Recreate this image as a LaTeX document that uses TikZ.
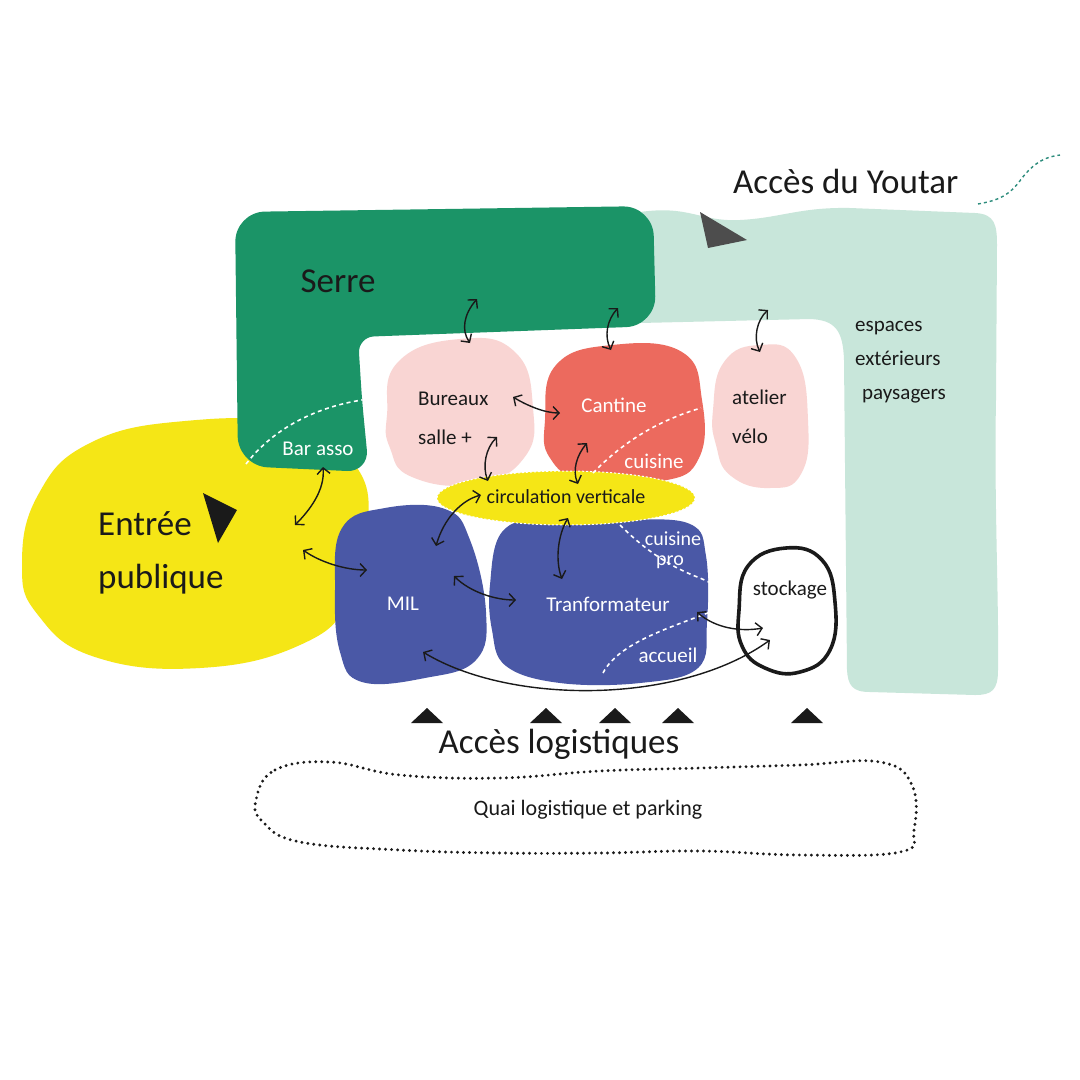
\documentclass[tikz,border=0pt]{standalone}
\usepackage{fontspec}
\setmainfont{Carlito}
\usetikzlibrary{arrows.meta}
\definecolor{serre}{HTML}{1B9467}
\definecolor{mint}{HTML}{C8E6DA}
\definecolor{ylw}{HTML}{F5E616}
\definecolor{pinkb}{HTML}{F9D5D3}
\definecolor{cant}{HTML}{EC6A5E}
\definecolor{bleu}{HTML}{4A58A6}
\definecolor{tri}{HTML}{4D4D4D}
\definecolor{teal}{HTML}{2C8C7C}
\definecolor{ink}{HTML}{1A1A1A}
\tikzset{
  arr/.style={ink, line width=1.4pt, {Straight Barb[length=6pt,width=13pt]}-{Straight Barb[length=6pt,width=13pt]}},
  wdash/.style={white, line width=1.6pt, dash pattern=on 4pt off 3.5pt},
  big/.style={ink, inner sep=0pt, font=\fontsize{35}{53}\selectfont},
  lbl/.style={inner sep=0pt, font=\fontsize{21}{39}\selectfont},
  wlbl/.style={lbl, white},
  blbl/.style={lbl, ink},
}
\begin{document}
\begin{tikzpicture}[x=1pt,y=-1pt]
\useasboundingbox (0,0) rectangle (1080,1080);
\fill[white] (0,0) rectangle (1080,1080);

% mint exterior spaces
\fill[mint] (640,212) .. controls (690,205) and (700,222) .. (740,220)
  .. controls (780,218) and (800,207) .. (850,208)
  .. controls (900,210) and (950,212) .. (975,213)
  .. controls (995,214) and (997,225) .. (997,245)
  -- (996,400) .. controls (994,500) and (999,600) .. (998,670)
  .. controls (998,690) and (992,695) .. (975,695)
  -- (870,692) .. controls (852,692) and (848,685) .. (847,670)
  -- (844,360) .. controls (843,330) and (835,320) .. (810,319)
  -- (640,323) -- cycle;

% yellow public entrance
\fill[ylw] plot[smooth cycle, tension=0.75] coordinates {(22,565) (38,495) (90,443) (185,421) (290,425) (355,465) (368,530) (350,600) (300,645) (200,668) (95,657) (38,615)};

% Serre
\fill[serre] (445,209) [rounded corners=30pt] -- (653,206) -- (656,326)
  [rounded corners=16pt] -- (358,337) -- (362,400) [rounded corners=22pt] -- (369,472)
  [rounded corners=30pt] -- (238,466) -- (235,212) -- (445,209);

% pink Bureaux
\fill[pinkb] plot[smooth cycle, tension=0.8] coordinates {(387,415) (398,362) (460,339) (515,352) (533,408) (524,458) (475,484) (412,477) (390,448)};
% Cantine
\fill[cant] plot[smooth cycle, tension=0.75] coordinates {(545,420) (556,365) (612,345) (682,352) (702,400) (699,458) (662,481) (585,480) (550,458)};
% atelier velo
\fill[pinkb] plot[smooth cycle, tension=0.8] coordinates {(713,410) (724,362) (760,345) (796,358) (808,420) (801,474) (770,488) (731,476) (716,445)};

% MIL
\fill[bleu] plot[smooth cycle, tension=0.7] coordinates {(335,590) (342,528) (385,508) (445,509) (470,540) (486,612) (476,660) (425,678) (362,682) (340,652)};
% Transformateur
\fill[bleu] plot[smooth cycle, tension=0.65] coordinates {(490,585) (502,532) (545,518) (625,519) (690,524) (706,556) (707,622) (698,668) (640,683) (560,683) (506,666) (492,630)};

% circulation verticale
\filldraw[fill=ylw, draw=white, line width=1pt, dash pattern=on 2pt off 2pt] (566,498) ellipse [x radius=129, y radius=27];

% stockage
\filldraw[fill=white, draw=ink, line width=3.6pt] plot[smooth cycle, tension=0.75] coordinates {(739,610) (748,566) (786,548) (822,560) (835,602) (830,650) (800,672) (765,668) (742,646)};

% quai
\draw[ink, line width=3.2pt, dash pattern=on 0pt off 6pt, line cap=round] plot[smooth cycle, tension=0.7] coordinates {(256,800) (275,770) (330,762) (400,775) (500,778) (600,771) (700,768) (800,765) (880,762) (912,785) (914,830) (900,852) (800,855) (700,851) (600,853) (500,853) (400,850) (300,842) (263,822)};

% white dashed separations
\draw[wdash] (246,464) .. controls (280,420) and (330,405) .. (362,400);
\draw[wdash] (593,473) .. controls (625,440) and (660,420) .. (701,408);
\draw[wdash] (620,525) .. controls (640,545) and (665,565) .. (700,578) -- (722,588);
\draw[wdash] (603,673) .. controls (620,640) and (680,625) .. (720,608);

% teal dotted path
\draw[teal, line width=1.4pt, dash pattern=on 3pt off 3pt] (978,204) .. controls (1000,200) and (1010,195) .. (1022,178) .. controls (1035,162) and (1045,157) .. (1060,155);

% triangles
\fill[tri] (700,212) -- (747,240) -- (708,248) -- cycle;
\fill[ink] (203,493) -- (237,510) -- (218,543) -- cycle;
\foreach \cx in {427,546,615,678,807} {\fill[ink] (\cx-16,723) -- (\cx,708) -- (\cx+16,723) -- cycle;}

% labels
\node[big, anchor=west] (tyoutar) at (733,181) {Accès du Youtar};
\node[big] (tserre) at (338,281) {Serre};
\node[big, anchor=west, align=left] (tentree) at (98,553) {Entrée\\publique};
\node[big] (tlog) at (559,744) {Accès logistiques};
\node[blbl, font=\fontsize{22}{22}\selectfont] (tquai) at (588,810) {Quai logistique et parking};
\node[blbl, anchor=west, align=left, font=\fontsize{21}{34}\selectfont] (tesp) at (855,362) {espaces\\extérieurs\\\hspace*{7pt}paysagers};
\node[blbl, anchor=west, align=left] (tbur) at (418,418) {Bureaux\\salle +};
\node[wlbl] (tcant) at (614,405) {Cantine};
\node[wlbl] (tcuis) at (654,461) {cuisine};
\node[blbl, anchor=west, align=left] (tvelo) at (732,417) {atelier\\vélo};
\node[wlbl] (tbar) at (318,449) {Bar asso};
\node[blbl, font=\fontsize{20}{20}\selectfont] (tcirc) at (566,497) {circulation verticale};
\node[wlbl] (tmil) at (403,604) {MIL};
\node[wlbl] (ttrans) at (608,604) {Tranformateur};
\node[wlbl, align=center, font=\fontsize{20}{20}\selectfont] (tcpro) at (673,550) {cuisine\\pro\hspace*{6pt}};
\node[wlbl] (tacc) at (668,655) {accueil};
\node[blbl] (tstock) at (790,590) {stockage};

% arrow end points
\coordinate (a1s) at (477,299); \coordinate (a1e) at (470,343);
\coordinate (a2s) at (618,308); \coordinate (a2e) at (611,350);
\coordinate (a3s) at (768,310); \coordinate (a3e) at (760,352);
\coordinate (a4s) at (513,397); \coordinate (a4e) at (560,413);
\coordinate (a5s) at (497,437); \coordinate (a5e) at (488,481);
\coordinate (a6s) at (587,443); \coordinate (a6e) at (578,484);
\coordinate (a7s) at (481,495); \coordinate (a7e) at (436,546);
\coordinate (a8s) at (568,518); \coordinate (a8e) at (562,579);
\coordinate (a9s) at (454,576); \coordinate (a9e) at (516,600);
\coordinate (a10s) at (303,550); \coordinate (a10e) at (367,570);
\coordinate (a11s) at (323,467); \coordinate (a11e) at (295,525);
\coordinate (a12s) at (697,612); \coordinate (a12e) at (763,628);
\coordinate (a13s) at (423,652); \coordinate (a13e) at (770,640);

\draw[arr] (a1s) .. controls (464,314) and (461,330) .. (a1e);
\draw[arr] (a2s) .. controls (607,320) and (604,336) .. (a2e);
\draw[arr] (a3s) .. controls (757,320) and (753,338) .. (a3e);
\draw[arr] (a4s) .. controls (528,406) and (545,413) .. (a4e);
\draw[arr] (a5s) .. controls (486,448) and (482,466) .. (a5e);
\draw[arr] (a6s) .. controls (577,455) and (572,470) .. (a6e);
\draw[arr] (a7s) .. controls (462,500) and (444,518) .. (a7e);
\draw[arr] (a8s) .. controls (558,535) and (555,560) .. (a8e);
\draw[arr] (a9s) .. controls (470,592) and (495,600) .. (a9e);
\draw[arr] (a10s) .. controls (320,562) and (345,570) .. (a10e);
\draw[arr] (a11s) .. controls (325,490) and (310,510) .. (a11e);
\draw[arr] (a12s) .. controls (715,628) and (740,632) .. (a12e);
\draw[arr] (a13s) .. controls (510,705) and (680,705) .. (a13e);
\end{tikzpicture}
\end{document}
